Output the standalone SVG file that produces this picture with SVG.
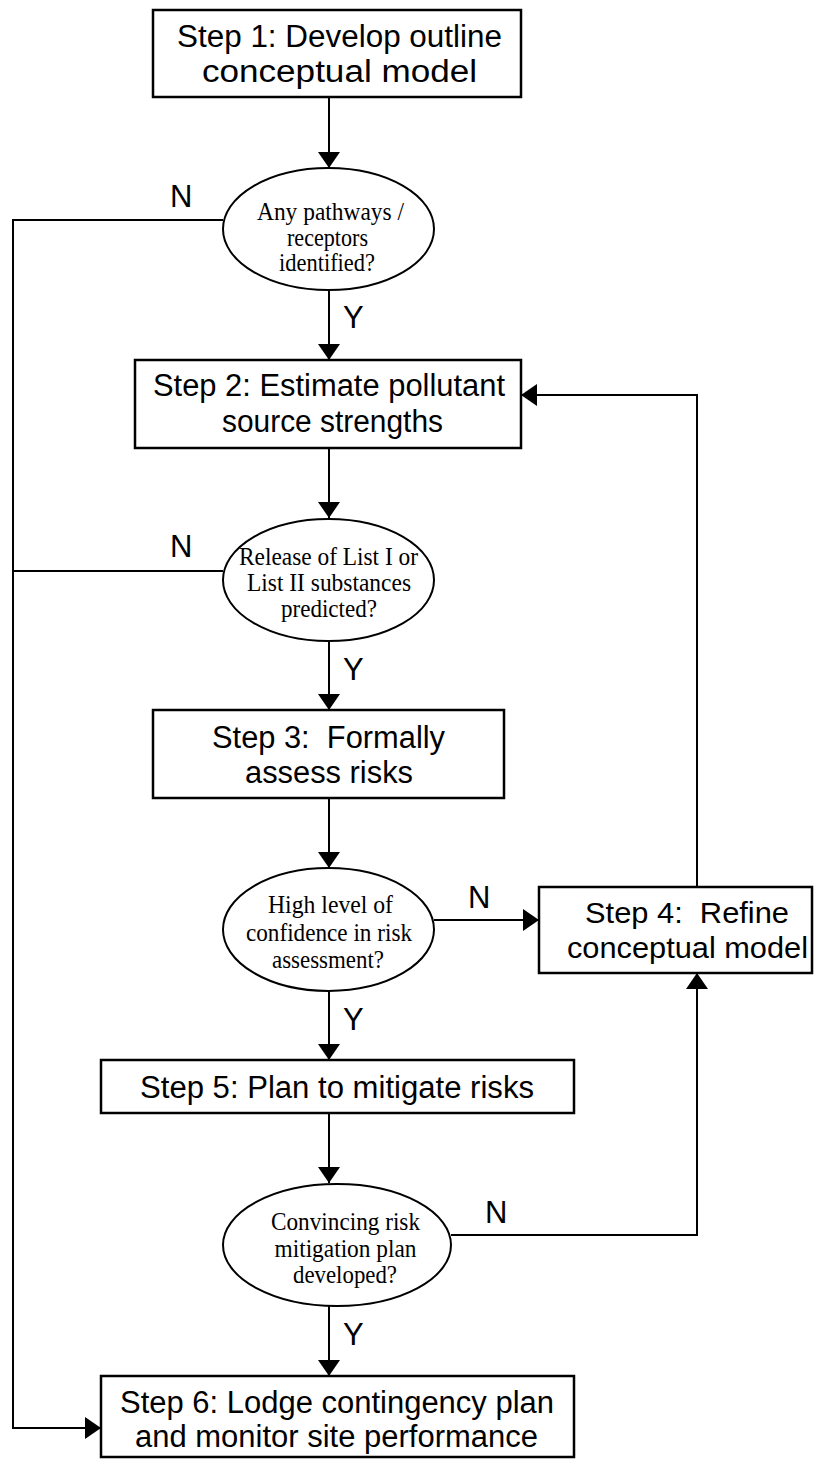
<svg xmlns="http://www.w3.org/2000/svg" width="825" height="1459" viewBox="0 0 825 1459">
<style>
.box{fill:#fff;stroke:#000;stroke-width:2.5}
.ell{fill:#fff;stroke:#000;stroke-width:2}
.con{fill:none;stroke:#000;stroke-width:2}
.bt{font-family:"Liberation Sans",Arial,sans-serif;font-size:31px;fill:#000}
.b4{font-size:29px}
.et{font-family:"Liberation Serif","Times New Roman",serif;font-size:25px;fill:#000}
.lb{font-family:"Liberation Sans",Arial,sans-serif;font-size:31px;fill:#000}
</style>
<defs>
<marker id="ah" markerUnits="userSpaceOnUse" markerWidth="16" markerHeight="22" viewBox="0 0 16 22" refX="16" refY="11" orient="auto">
<path d="M0,0 L16,11 L0,22 z" fill="#000"/>
</marker>
</defs>
<rect width="825" height="1459" fill="#fff"/>
<g id="connectors">
<line class="con" x1="329" y1="97" x2="329" y2="168" marker-end="url(#ah)"/>
<line class="con" x1="329" y1="290" x2="329" y2="360" marker-end="url(#ah)"/>
<line class="con" x1="329" y1="448" x2="329" y2="518" marker-end="url(#ah)"/>
<line class="con" x1="329" y1="641" x2="329" y2="710" marker-end="url(#ah)"/>
<line class="con" x1="329" y1="798" x2="329" y2="868" marker-end="url(#ah)"/>
<line class="con" x1="329" y1="991" x2="329" y2="1060" marker-end="url(#ah)"/>
<line class="con" x1="329" y1="1113" x2="329" y2="1183" marker-end="url(#ah)"/>
<line class="con" x1="329" y1="1306" x2="329" y2="1376" marker-end="url(#ah)"/>
<polyline class="con" points="223,220 13,220 13,1428 101,1428" marker-end="url(#ah)"/>
<line class="con" x1="223" y1="571" x2="13" y2="571"/>
<line class="con" x1="434" y1="920" x2="539" y2="920" marker-end="url(#ah)"/>
<polyline class="con" points="451,1235 697,1235 697,973" marker-end="url(#ah)"/>
<polyline class="con" points="697,887 697,395 521,395" marker-end="url(#ah)"/>
<text class="lb" x="170" y="207">N</text>
<text class="lb" x="170" y="557">N</text>
<text class="lb" x="468" y="908">N</text>
<text class="lb" x="485" y="1223">N</text>
<text class="lb" x="343" y="328">Y</text>
<text class="lb" x="343" y="680">Y</text>
<text class="lb" x="343" y="1030">Y</text>
<text class="lb" x="343" y="1345">Y</text>
</g>
<g id="step1">
<rect class="box" x="153" y="10" width="368" height="87"/>
<text class="bt" x="177" y="47" textLength="325" lengthAdjust="spacingAndGlyphs">Step 1: Develop outline</text>
<text class="bt" x="202" y="82" textLength="275" lengthAdjust="spacingAndGlyphs">conceptual model</text>
</g>
<g id="decision1">
<ellipse class="ell" cx="328.5" cy="229" rx="105.5" ry="61"/>
<text class="et" x="257" y="220" textLength="147" lengthAdjust="spacingAndGlyphs">Any pathways /</text>
<text class="et" x="287" y="246" textLength="81" lengthAdjust="spacingAndGlyphs">receptors</text>
<text class="et" x="279" y="271" textLength="96" lengthAdjust="spacingAndGlyphs">identified?</text>
</g>
<g id="step2">
<rect class="box" x="135" y="360" width="386" height="88"/>
<text class="bt" x="153" y="396" textLength="352" lengthAdjust="spacingAndGlyphs">Step 2: Estimate pollutant</text>
<text class="bt" x="222" y="432" textLength="221" lengthAdjust="spacingAndGlyphs">source strengths</text>
</g>
<g id="decision2">
<ellipse class="ell" cx="328.5" cy="580" rx="105.5" ry="61"/>
<text class="et" x="239" y="565" textLength="179" lengthAdjust="spacingAndGlyphs">Release of List I or</text>
<text class="et" x="247" y="591" textLength="164" lengthAdjust="spacingAndGlyphs">List II substances</text>
<text class="et" x="281" y="617" textLength="96" lengthAdjust="spacingAndGlyphs">predicted?</text>
</g>
<g id="step3">
<rect class="box" x="153" y="710" width="351" height="88"/>
<text class="bt" x="212" y="748" textLength="233" lengthAdjust="spacingAndGlyphs" xml:space="preserve">Step 3:  Formally</text>
<text class="bt" x="245" y="783" textLength="168" lengthAdjust="spacingAndGlyphs">assess risks</text>
</g>
<g id="decision3">
<ellipse class="ell" cx="328.5" cy="929.5" rx="105.5" ry="61.5"/>
<text class="et" x="268" y="913" textLength="125" lengthAdjust="spacingAndGlyphs">High level of</text>
<text class="et" x="246" y="941" textLength="166" lengthAdjust="spacingAndGlyphs">confidence in risk</text>
<text class="et" x="272" y="968" textLength="112" lengthAdjust="spacingAndGlyphs">assessment?</text>
</g>
<g id="step4">
<rect class="box" x="539" y="887" width="273" height="86"/>
<text class="bt b4" x="585" y="923" textLength="204" lengthAdjust="spacingAndGlyphs" xml:space="preserve">Step 4:  Refine</text>
<text class="bt b4" x="567" y="958" textLength="241" lengthAdjust="spacingAndGlyphs">conceptual model</text>
</g>
<g id="step5">
<rect class="box" x="101" y="1060" width="473" height="53"/>
<text class="bt" x="140" y="1098" textLength="394" lengthAdjust="spacingAndGlyphs">Step 5: Plan to mitigate risks</text>
</g>
<g id="decision4">
<ellipse class="ell" cx="337" cy="1245" rx="114" ry="61"/>
<text class="et" x="271" y="1230" textLength="149" lengthAdjust="spacingAndGlyphs">Convincing risk</text>
<text class="et" x="274.5" y="1257" textLength="142" lengthAdjust="spacingAndGlyphs">mitigation plan</text>
<text class="et" x="293" y="1283" textLength="104" lengthAdjust="spacingAndGlyphs">developed?</text>
</g>
<g id="step6">
<rect class="box" x="101" y="1376" width="473" height="81"/>
<text class="bt" x="120" y="1413" textLength="434" lengthAdjust="spacingAndGlyphs">Step 6: Lodge contingency plan</text>
<text class="bt" x="135" y="1447" textLength="403" lengthAdjust="spacingAndGlyphs">and monitor site performance</text>
</g>
</svg>
